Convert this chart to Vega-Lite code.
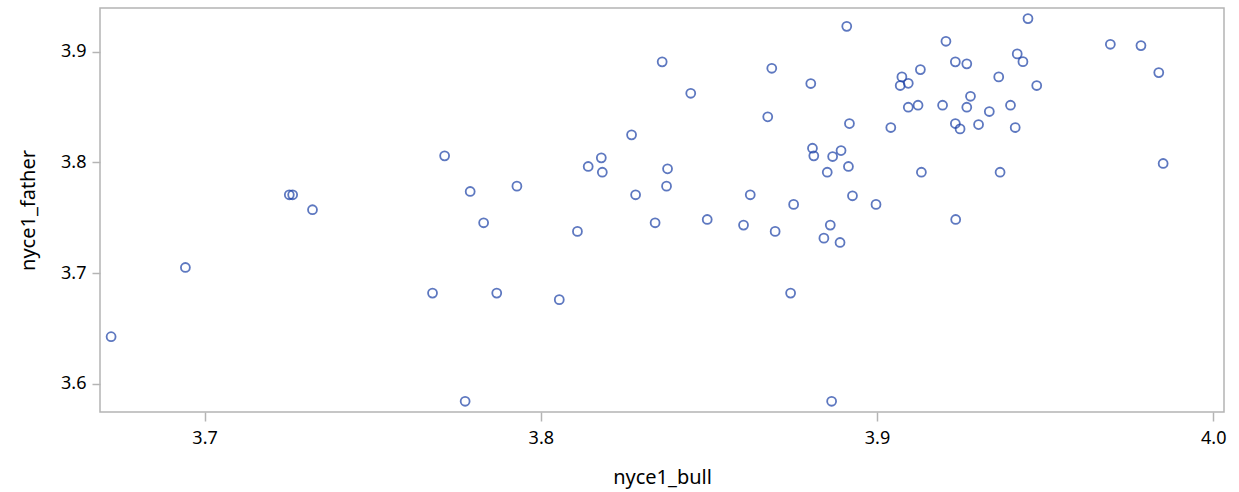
{
  "$schema": "https://vega.github.io/schema/vega-lite/v6.json",
  "autosize": "none",
  "width": 1124,
  "height": 404,
  "padding": {"left": 100, "top": 8, "right": 15, "bottom": 80},
  "background": "white",
  "config": {
    "font": "Noto Sans",
    "view": {"stroke": "#b4b4b4", "strokeWidth": 1.5}
  },
  "data": {
    "values": [
      {"nyce1_bull": 3.6722, "nyce1_father": 3.6425},
      {"nyce1_bull": 3.6943, "nyce1_father": 3.7051},
      {"nyce1_bull": 3.7252, "nyce1_father": 3.7708},
      {"nyce1_bull": 3.7262, "nyce1_father": 3.7708},
      {"nyce1_bull": 3.7321, "nyce1_father": 3.7573},
      {"nyce1_bull": 3.8361, "nyce1_father": 3.891},
      {"nyce1_bull": 3.8687, "nyce1_father": 3.8852},
      {"nyce1_bull": 3.8803, "nyce1_father": 3.8714},
      {"nyce1_bull": 3.8446, "nyce1_father": 3.8626},
      {"nyce1_bull": 3.8675, "nyce1_father": 3.8413},
      {"nyce1_bull": 3.827, "nyce1_father": 3.825},
      {"nyce1_bull": 3.8808, "nyce1_father": 3.8129},
      {"nyce1_bull": 3.8812, "nyce1_father": 3.806},
      {"nyce1_bull": 3.7714, "nyce1_father": 3.806},
      {"nyce1_bull": 3.818, "nyce1_father": 3.8042},
      {"nyce1_bull": 3.8141, "nyce1_father": 3.7964},
      {"nyce1_bull": 3.8183, "nyce1_father": 3.7912},
      {"nyce1_bull": 3.8377, "nyce1_father": 3.7943},
      {"nyce1_bull": 3.8374, "nyce1_father": 3.7786},
      {"nyce1_bull": 3.7929, "nyce1_father": 3.7786},
      {"nyce1_bull": 3.779, "nyce1_father": 3.7738},
      {"nyce1_bull": 3.8282, "nyce1_father": 3.7708},
      {"nyce1_bull": 3.8623, "nyce1_father": 3.7708},
      {"nyce1_bull": 3.8752, "nyce1_father": 3.7621},
      {"nyce1_bull": 3.783, "nyce1_father": 3.7455},
      {"nyce1_bull": 3.834, "nyce1_father": 3.7455},
      {"nyce1_bull": 3.8495, "nyce1_father": 3.7485},
      {"nyce1_bull": 3.8603, "nyce1_father": 3.7434},
      {"nyce1_bull": 3.8697, "nyce1_father": 3.7377},
      {"nyce1_bull": 3.8109, "nyce1_father": 3.7377},
      {"nyce1_bull": 3.8842, "nyce1_father": 3.7316},
      {"nyce1_bull": 3.7678, "nyce1_father": 3.6819},
      {"nyce1_bull": 3.7869, "nyce1_father": 3.6819},
      {"nyce1_bull": 3.8055, "nyce1_father": 3.676},
      {"nyce1_bull": 3.8743, "nyce1_father": 3.6819},
      {"nyce1_bull": 3.7775, "nyce1_father": 3.5841},
      {"nyce1_bull": 3.891, "nyce1_father": 3.9231},
      {"nyce1_bull": 3.9449, "nyce1_father": 3.9301},
      {"nyce1_bull": 3.9205, "nyce1_father": 3.9096},
      {"nyce1_bull": 3.9694, "nyce1_father": 3.9069},
      {"nyce1_bull": 3.9785, "nyce1_father": 3.9057},
      {"nyce1_bull": 3.9838, "nyce1_father": 3.8813},
      {"nyce1_bull": 3.9233, "nyce1_father": 3.891},
      {"nyce1_bull": 3.9267, "nyce1_father": 3.8892},
      {"nyce1_bull": 3.9417, "nyce1_father": 3.8982},
      {"nyce1_bull": 3.9434, "nyce1_father": 3.8912},
      {"nyce1_bull": 3.9129, "nyce1_father": 3.884},
      {"nyce1_bull": 3.9074, "nyce1_father": 3.8774},
      {"nyce1_bull": 3.9069, "nyce1_father": 3.8696},
      {"nyce1_bull": 3.9093, "nyce1_father": 3.8716},
      {"nyce1_bull": 3.9362, "nyce1_father": 3.8774},
      {"nyce1_bull": 3.9475, "nyce1_father": 3.8696},
      {"nyce1_bull": 3.9278, "nyce1_father": 3.8599},
      {"nyce1_bull": 3.9093, "nyce1_father": 3.85},
      {"nyce1_bull": 3.9122, "nyce1_father": 3.8518},
      {"nyce1_bull": 3.9195, "nyce1_father": 3.8518},
      {"nyce1_bull": 3.9267, "nyce1_father": 3.85},
      {"nyce1_bull": 3.9334, "nyce1_father": 3.8461},
      {"nyce1_bull": 3.9397, "nyce1_father": 3.8518},
      {"nyce1_bull": 3.8918, "nyce1_father": 3.8352},
      {"nyce1_bull": 3.9041, "nyce1_father": 3.8316},
      {"nyce1_bull": 3.9233, "nyce1_father": 3.8352},
      {"nyce1_bull": 3.9247, "nyce1_father": 3.8304},
      {"nyce1_bull": 3.9302, "nyce1_father": 3.8343},
      {"nyce1_bull": 3.9411, "nyce1_father": 3.8316},
      {"nyce1_bull": 3.8893, "nyce1_father": 3.8108},
      {"nyce1_bull": 3.8868, "nyce1_father": 3.8054},
      {"nyce1_bull": 3.8915, "nyce1_father": 3.7964},
      {"nyce1_bull": 3.8852, "nyce1_father": 3.7912},
      {"nyce1_bull": 3.9132, "nyce1_father": 3.7912},
      {"nyce1_bull": 3.9366, "nyce1_father": 3.7912},
      {"nyce1_bull": 3.9851, "nyce1_father": 3.7991},
      {"nyce1_bull": 3.8927, "nyce1_father": 3.7699},
      {"nyce1_bull": 3.8997, "nyce1_father": 3.7621},
      {"nyce1_bull": 3.9234, "nyce1_father": 3.7485},
      {"nyce1_bull": 3.8861, "nyce1_father": 3.7434},
      {"nyce1_bull": 3.889, "nyce1_father": 3.7277},
      {"nyce1_bull": 3.8865, "nyce1_father": 3.5841}
    ]
  },
  "mark": {
    "type": "point",
    "shape": "circle",
    "filled": false,
    "size": 80,
    "strokeWidth": 1.8,
    "color": "#1a3fa6",
    "clip": true
  },
  "encoding": {
    "x": {
      "field": "nyce1_bull",
      "type": "quantitative",
      "title": "nyce1_bull",
      "scale": {"domain": [3.6689, 4.0032], "nice": false, "zero": false},
      "axis": {
        "values": [3.7, 3.8, 3.9, 4.0],
        "format": ".1f",
        "grid": false,
        "domain": false,
        "tickColor": "#b4b4b4",
        "tickWidth": 1.5,
        "tickSize": 9,
        "labelFontSize": 18,
        "labelColor": "#000000",
        "labelPadding": 8,
        "titleFontSize": 20,
        "titleFontWeight": "normal",
        "titleColor": "#000000",
        "titlePadding": 20
      }
    },
    "y": {
      "field": "nyce1_father",
      "type": "quantitative",
      "title": "nyce1_father",
      "scale": {"domain": [3.5744, 3.9397], "nice": false, "zero": false},
      "axis": {
        "values": [3.6, 3.7, 3.8, 3.9],
        "format": ".1f",
        "grid": false,
        "domain": false,
        "tickColor": "#b4b4b4",
        "tickWidth": 1.5,
        "tickSize": 8,
        "labelFontSize": 18,
        "labelColor": "#000000",
        "labelPadding": 6,
        "titleFontSize": 20,
        "titleFontWeight": "normal",
        "titleColor": "#000000",
        "titlePadding": 22
      }
    }
  }
}
